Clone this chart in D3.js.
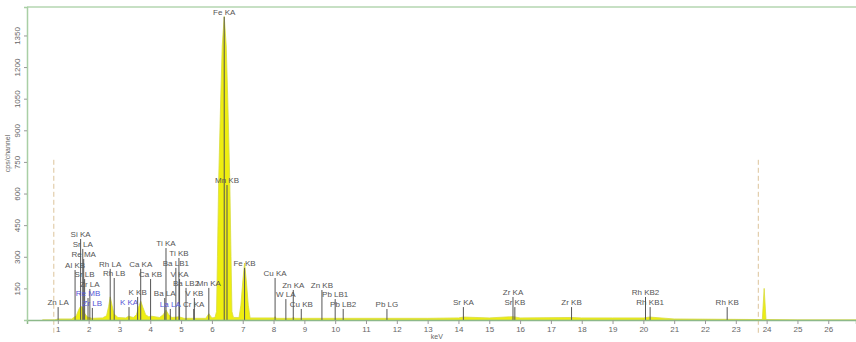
<!DOCTYPE html>
<html>
<head>
<meta charset="utf-8">
<script src="https://cdn.jsdelivr.net/npm/d3@7"></script>
<style>
  body { margin: 0; background: #fff; }
  svg { display: block; font-family: "Liberation Sans", Arial, sans-serif; }
</style>
</head>
<body>
<figure id="spectrum" style="margin:0"></figure>
<script>
// spectrum (keV / cps per channel)
const specKeV = [0.5, 0.9, 1.0, 1.45, 1.6, 1.68, 1.74, 1.8, 1.88, 1.95, 2.1, 2.45, 2.58, 2.65, 2.70, 2.76, 2.82, 2.95, 3.2, 3.3, 3.45, 3.55, 3.62, 3.69, 3.76, 3.85, 3.95, 4.05, 4.3, 4.42, 4.51, 4.6, 4.7, 4.93, 5.1, 5.8, 5.9, 6.0,
  6.10, 6.15, 6.18, 6.22, 6.285, 6.335, 6.40, 6.465, 6.515, 6.58, 6.62, 6.65, 6.70,
  6.88, 6.94, 7.00, 7.06, 7.12, 7.18, 7.24, 8.0, 8.05, 8.1, 8.6, 8.64, 8.7,
  10, 13, 14, 14.16, 15, 15.77, 16, 17.67, 18, 19, 20, 20.2, 21, 23, 23.86, 23.92, 23.98, 25, 26.9];
const specCps = [0, 0, 5, 5, 20, 50, 65, 60, 30, 15, 8, 10, 20, 65, 110, 70, 30, 12, 10, 18, 12, 25, 60, 90, 60, 25, 15, 18, 12, 25, 47, 25, 12, 15, 8, 8, 30, 10,
  12, 40, 300, 664, 1044, 1300, 1440, 1300, 1044, 664, 300, 40, 12,
  12, 70, 180, 270, 180, 70, 10, 10, 15, 8, 8, 12, 8,
  8, 8, 10, 14, 10, 16, 10, 12, 10, 10, 10, 14, 5, 3, 2, 150, 2, 0, 0];

// element markers: energy, label, label height (cps), blue label
const lineKeV = [1.01, 1.56, 1.74, 1.81, 1.84, 1.87, 2.04, 1.98, 2.12, 2.70, 2.83, 3.31, 3.59, 3.69, 4.01, 4.51, 4.93, 4.83, 4.95, 5.16, 5.90, 4.47, 5.43, 4.65, 5.41,
  6.40, 6.49, 7.06, 8.05, 8.64, 9.57, 8.40, 8.90, 10.0, 10.26, 11.68, 14.16, 15.77, 15.83, 17.67, 20.07, 20.22, 22.72];
const lineName = ["Zn LA", "Al KB", "Si KA", "Sr LA", "Re MA", "Sr LB", "Zr LA", "Re MB", "Zr LB", "Rh LA", "Rh LB", "K KA", "K KB", "Ca KA", "Ca KB", "Ti KA", "Ti KB", "Ba LB1", "V KA", "Ba LB2", "Mn KA", "Ba LA", "V KB", "La LA", "Cr KA",
  "Fe KA", "Mn KB", "Fe KB", "Cu KA", "Zn KA", "Zn KB", "W LA", "Cu KB", "Pb LB1", "Pb LB2", "Pb LG", "Sr KA", "Zr KA", "Sr KB", "Zr KB", "Rh KB2", "Rh KB1", "Rh KB"];
const lineLabelCps = [85, 261, 408, 361, 313, 218, 171, 128, 81, 266, 223, 85, 133, 266, 218, 365, 318, 271, 218, 176, 176, 128, 128, 76, 76,
  1462, 664, 271, 223, 166, 166, 123, 76, 123, 76, 76, 85, 133, 85, 85, 133, 85, 85];
const lineBlue = ["Re MB", "Zr LB", "K KA", "La LA"];

// region-of-interest markers (dashed)
const roiKeV = [0.87, 23.73];
const roiTopCps = 760;

const yTicks = [150, 300, 450, 600, 750, 900, 1050, 1200, 1350];
const xTicks = d3.range(1, 27);

const width = 856, height = 342;
const margin = {top: 7, right: 0, bottom: 22, left: 27};

const x = d3.scaleLinear().domain([0, 26.9]).range([margin.left, width - margin.right]);
const y = d3.scaleLinear().domain([0, 1485]).range([height - margin.bottom, margin.top]);

const svg = d3.select("figure#spectrum")
  .append("svg")
  .attr("width", width)
  .attr("height", height);

// frame
svg.append("line")
  .attr("x1", x(0)).attr("x2", width)
  .attr("y1", margin.top).attr("y2", margin.top)
  .attr("stroke", "#b5d6b0").attr("stroke-width", 1.5);

// dashed ROI lines
svg.selectAll(".roi")
  .data(roiKeV)
  .join("line")
  .attr("class", "roi")
  .attr("x1", d => x(d)).attr("x2", d => x(d))
  .attr("y1", y(roiTopCps)).attr("y2", y(0) + 14)
  .attr("stroke", "#dcc49a")
  .attr("stroke-width", 1)
  .attr("stroke-dasharray", "5,3");

// spectrum
const spec = specKeV.map((k, i) => [k, specCps[i]]);
svg.append("path")
  .datum(spec)
  .attr("fill", "#eeee10")
  .attr("stroke", "#d8dc40")
  .attr("stroke-width", 0.8)
  .attr("d", d3.area()
    .x(d => x(d[0]))
    .y0(y(0))
    .y1(d => y(d[1])));

// element markers
const markers = lineKeV.map((k, i) => ({keV: k, name: lineName[i], cps: lineLabelCps[i]}));

svg.selectAll(".mk")
  .data(markers)
  .join("line")
  .attr("class", "mk")
  .attr("x1", d => x(d.keV)).attr("x2", d => x(d.keV))
  .attr("y1", y(0))
  .attr("y2", d => y(d.cps) + 5)
  .attr("stroke", "#555")
  .attr("stroke-width", 1);

svg.selectAll(".mkl")
  .data(markers)
  .join("text")
  .attr("class", "mkl")
  .attr("x", d => x(d.keV))
  .attr("y", d => y(d.cps) + 3)
  .attr("text-anchor", "middle")
  .style("font-size", "8px")
  .attr("fill", d => lineBlue.includes(d.name) ? "#5656d6" : "#555")
  .text(d => d.name);

// x axis
const xAxis = svg.append("g")
  .attr("transform", `translate(0,${y(0)})`)
  .call(d3.axisBottom(x).tickValues(xTicks).tickSize(4).tickFormat(d3.format("d")));
xAxis.select(".domain").attr("stroke", "#8db98a").attr("stroke-width", 1.5);
xAxis.selectAll(".tick line").attr("stroke", "#999");
xAxis.selectAll(".tick text").attr("fill", "#666").style("font-size", "8px").attr("y", 6);

// y axis
const yAxis = svg.append("g")
  .attr("transform", `translate(${x(0)},0)`)
  .call(d3.axisLeft(y).tickValues(yTicks).tickSize(3).tickFormat(d3.format("d")));
yAxis.select(".domain").attr("stroke", "#a9cfa5").attr("stroke-width", 1.5);
yAxis.selectAll(".tick line").attr("stroke", "#999");
yAxis.selectAll(".tick text")
  .attr("fill", "#666")
  .style("font-size", "8px")
  .attr("x", 0).attr("dy", 0)
  .attr("text-anchor", "middle")
  .attr("transform", "translate(-7,0) rotate(-90)");

svg.append("text")
  .attr("x", x(13.3)).attr("y", 339)
  .attr("text-anchor", "middle")
  .attr("fill", "#666")
  .style("font-size", "7px")
  .text("keV");

svg.append("text")
  .attr("transform", `translate(10,${y(790)}) rotate(-90)`)
  .attr("text-anchor", "middle")
  .attr("fill", "#666")
  .style("font-size", "7px")
  .text("cps/channel");
</script>
</body>
</html>
